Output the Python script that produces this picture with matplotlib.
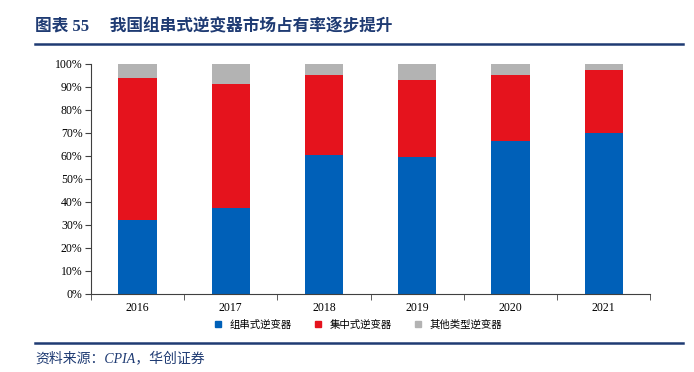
import matplotlib.pyplot as plt
import numpy as np
from matplotlib.lines import Line2D

years = ['2016', '2017', '2018', '2019', '2020', '2021']
string_inv = [32.0, 37.5, 60.4, 59.4, 66.7, 69.8]
central_inv = [62.0, 53.8, 34.6, 33.6, 28.3, 27.5]
other_inv = [6.0, 8.7, 5.0, 7.0, 5.0, 2.7]
series_names = ['组串式逆变器', '集中式逆变器', '其他类型逆变器']
colors = ['#0060B8', '#E5131D', '#B3B3B3']

title_text = '图表 55     我国组串式逆变器市场占有率逐步提升'
source_text = '资料来源：CPIA，华创证券'
dark_blue = '#1F3B73'

plt.rcParams['font.family'] = ['Liberation Serif', 'Noto Sans CJK SC', 'DejaVu Sans']

fig = plt.figure(figsize=(6.94, 3.72), dpi=100)
ax = fig.add_axes([0.131, 0.2097, 0.806, 0.6183])

x = np.arange(len(years))
w = 0.41
bottom = np.zeros(len(years))
for vals, name, c in zip([string_inv, central_inv, other_inv], series_names, colors):
    ax.bar(x, vals, w, bottom=bottom, color=c, label=name, zorder=2)
    bottom += np.array(vals)

ax.set_xlim(-0.5, len(years) - 0.5)
ax.set_ylim(0, 100)
ax.set_yticks(np.arange(0, 101, 10))
ax.set_yticklabels([f'{v}%' for v in range(0, 101, 10)], fontsize=8.5)
ax.set_xticks(x)
ax.set_xticklabels(years, fontsize=8.5)
ax.set_xticks(np.arange(-0.5, len(years), 1), minor=True)
ax.tick_params(axis='x', which='major', length=0, pad=6)
ax.tick_params(axis='x', which='minor', length=4, direction='out', color='#404040')
ax.tick_params(axis='y', length=4, direction='out', color='#404040', pad=2)
for s in ['top', 'right']:
    ax.spines[s].set_visible(False)
for s in ['left', 'bottom']:
    ax.spines[s].set_color('#404040')
    ax.spines[s].set_linewidth(0.8)

handles = [Line2D([], [], marker='s', linestyle='', color=c, markersize=5) for c in colors]
fig.legend(handles, series_names, loc='center', bbox_to_anchor=(355 / 694, 1 - 325 / 372),
           ncol=3, frameon=False, handletextpad=0.1, columnspacing=1.5,
           prop={'family': ['Noto Sans CJK SC'], 'size': 7.5})

fig.text(35 / 694, 1 - 27 / 372, title_text, color=dark_blue, fontsize=12,
         fontweight='bold', va='center', ha='left',
         family=['Liberation Serif', 'Noto Sans CJK SC'])
fig.add_artist(Line2D([35 / 694, 683 / 694], [1 - 44 / 372, 1 - 44 / 372],
                      color=dark_blue, linewidth=1.8, transform=fig.transFigure))
fig.add_artist(Line2D([35 / 694, 683 / 694], [1 - 343 / 372, 1 - 343 / 372],
                      color=dark_blue, linewidth=1.8, transform=fig.transFigure))
fig.text(35 / 694, 1 - 358 / 372, source_text, color=dark_blue, fontsize=10,
         style='italic', va='center', ha='left',
         family=['Liberation Serif', 'Noto Sans CJK SC'])

fig.savefig('out.png', dpi=100)
